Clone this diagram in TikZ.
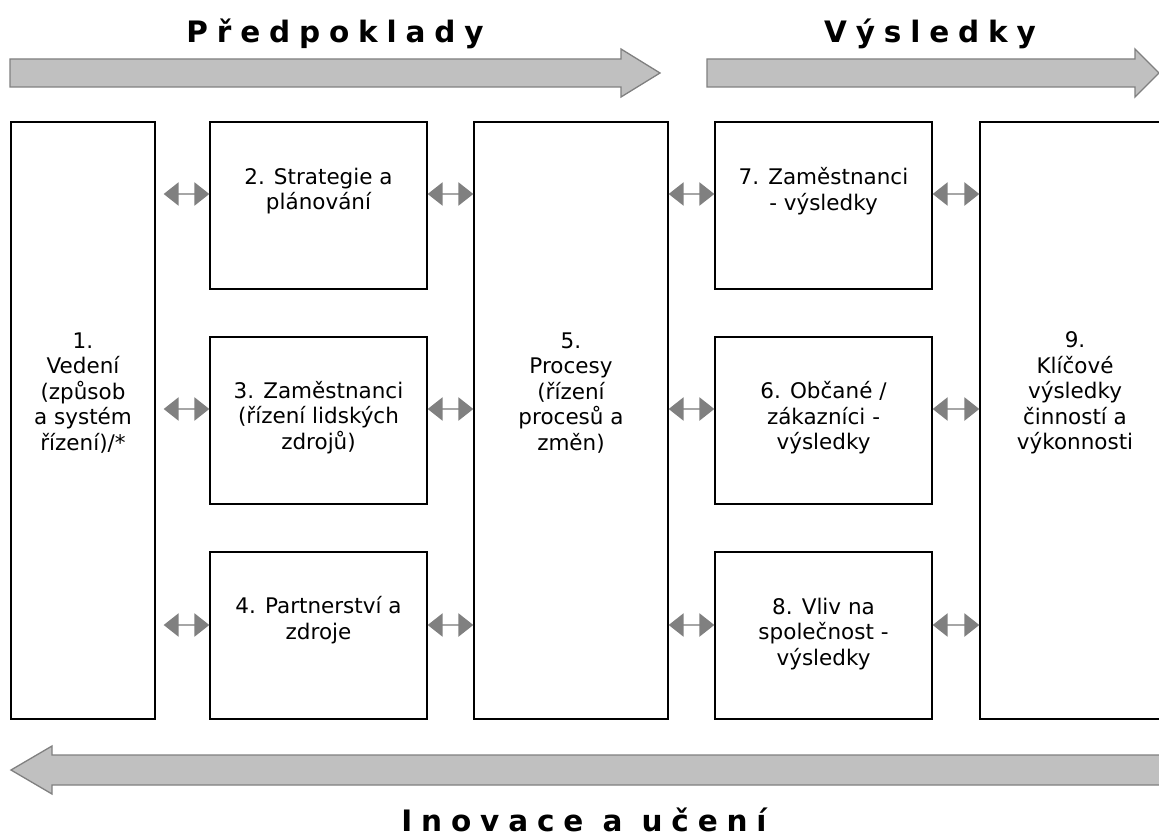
\documentclass[tikz,border=0pt]{standalone}
\usepackage{fontspec}
\setmainfont{DejaVu Sans}
\usetikzlibrary{arrows.meta}
\definecolor{arrfill}{HTML}{C0C0C0}
\definecolor{arrline}{HTML}{808080}
\definecolor{dblhead}{HTML}{808080}
\definecolor{dblshaft}{HTML}{A6A6A6}
\begin{document}
\begin{tikzpicture}[x=1pt,y=-1pt,
  box/.style={draw=black, line width=1.3pt, inner sep=0pt},
  lbl/.style={font=\fontsize{21.5}{25.5}\selectfont, align=center, inner sep=0pt},
  ttl/.style={font=\fontsize{29.5}{34}\selectfont\bfseries\addfontfeature{LetterSpace=30}, inner sep=0pt, anchor=base},
  bigarrow/.style={fill=arrfill, draw=arrline, line width=1.3pt, line join=miter},
  dbl/.style={draw=dblshaft, line width=2.5pt,
     {Triangle[length=15pt,width=23pt,color=dblhead]}-{Triangle[length=15pt,width=23pt,color=dblhead]}}
]
\path[use as bounding box] (0,0) rectangle (1159,837);
\clip (0,0) rectangle (1159,837);
\fill[white] (0,0) rectangle (1159,837);

% titles
\node[ttl] (tpred) at (335,43) {Předpoklady};
\node[ttl] (tvys) at (930,43) {Výsledky};
\node[ttl] (tinov) at (584,831) {Inovace a učení};

% big arrows
\draw[bigarrow] (10,59) -- (621,59) -- (621,49) -- (660,73) -- (621,97) -- (621,87) -- (10,87) -- cycle;
\draw[bigarrow] (707,59) -- (1135,59) -- (1135,49) -- (1159,73) -- (1135,97) -- (1135,87) -- (707,87) -- cycle;
\draw[bigarrow] (1175,755) -- (52,755) -- (52,746) -- (11,770) -- (52,794) -- (52,785) -- (1175,785) -- cycle;

% boxes
\node[box, minimum width=144, minimum height=597] (b1) at (83,420.5) {};
\node[box, minimum width=217, minimum height=167] (b2) at (318.5,205.5) {};
\node[box, minimum width=217, minimum height=167] (b3) at (318.5,420.5) {};
\node[box, minimum width=217, minimum height=167] (b4) at (318.5,635.5) {};
\node[box, minimum width=194, minimum height=597] (b5) at (571,420.5) {};
\node[box, minimum width=217, minimum height=167] (b7) at (823.5,205.5) {};
\node[box, minimum width=217, minimum height=167] (b6) at (823.5,420.5) {};
\node[box, minimum width=217, minimum height=167] (b8) at (823.5,635.5) {};
\node[box, minimum width=190, minimum height=597] (b9) at (1075,420.5) {};

% labels
\node[lbl] (l1) at (83,393) {1.\\Vedení\\(způsob\\a systém\\řízení)/*};
\node[lbl] (l2) at (318.5,191) {2. Strategie a\\plánování};
\node[lbl] (l3) at (318.5,417.5) {3. Zaměstnanci\\(řízení lidských\\zdrojů)};
\node[lbl] (l4) at (318.5,620) {4. Partnerství a\\zdroje};
\node[lbl] (l5) at (571,393) {5.\\Procesy\\(řízení\\procesů a\\změn)};
\node[lbl] (l7) at (823.5,191) {7. Zaměstnanci\\- výsledky};
\node[lbl] (l6) at (823.5,418) {6. Občané /\\zákazníci -\\výsledky};
\node[lbl] (l8) at (823.5,634) {8. Vliv na\\společnost -\\výsledky};
\node[lbl] (l9) at (1075,393) {9.\\Klíčové\\výsledky\\činností a\\výkonnosti};

% rows for the double arrows
\coordinate (r1) at (0,194);
\coordinate (r2) at (0,409);
\coordinate (r3) at (0,625);
\coordinate (b1e) at ([xshift=8]b1.east);

\draw[dbl] (b1e |- r1) -- (b2.west |- r1);
\draw[dbl] (b1e |- r2) -- (b3.west |- r2);
\draw[dbl] (b1e |- r3) -- (b4.west |- r3);
\draw[dbl] (b2.east |- r1) -- (b5.west |- r1);
\draw[dbl] (b3.east |- r2) -- (b5.west |- r2);
\draw[dbl] (b4.east |- r3) -- (b5.west |- r3);
\draw[dbl] (b5.east |- r1) -- (b7.west |- r1);
\draw[dbl] (b5.east |- r2) -- (b6.west |- r2);
\draw[dbl] (b5.east |- r3) -- (b8.west |- r3);
\draw[dbl] (b7.east |- r1) -- (b9.west |- r1);
\draw[dbl] (b6.east |- r2) -- (b9.west |- r2);
\draw[dbl] (b8.east |- r3) -- (b9.west |- r3);
\end{tikzpicture}
\end{document}
